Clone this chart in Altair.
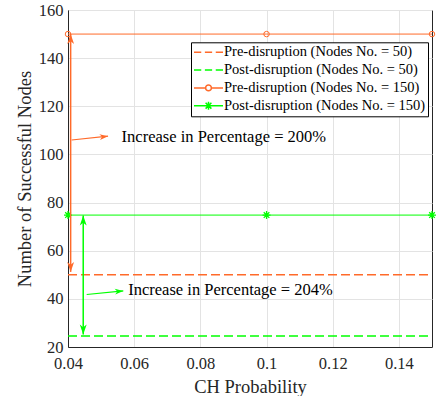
import altair as alt
import pandas as pd

# ---------------- data ----------------
ch_probability = [0.04, 0.1, 0.15]
series = [
    "Pre-disruption (Nodes No. = 50)",
    "Post-disruption (Nodes No. = 50)",
    "Pre-disruption (Nodes No. = 150)",
    "Post-disruption (Nodes No. = 150)",
]
pre_50 = [50, 50, 50]
post_50 = [24.6, 24.6, 24.6]
pre_150 = [150, 150, 150]
post_150 = [74.8, 74.8, 74.8]

x_ticks = [0.04, 0.06, 0.08, 0.10, 0.12, 0.14]
y_ticks = [20, 40, 60, 80, 100, 120, 140, 160]

# annotations (data units)
ann_texts = ["Increase in Percentage = 200%", "Increase in Percentage = 204%"]
ann_text_x = [0.0562, 0.0582]
ann_text_y = [107.3, 43.6]
vert_x = [0.0408, 0.0446]
vert_top = [150.0, 74.6]
vert_bottom = [51.2, 25.2]
ptr_x0 = [0.0411, 0.04565]
ptr_y0 = [106.0, 41.8]
ptr_x1 = [0.0521, 0.05671]
ptr_y1 = [107.6, 43.3]

# ---------------- styles ----------------
ORANGE = "#FF6A2A"
GREEN = "#00FF00"
FONT = "Liberation Serif"
colors = [ORANGE, GREEN, ORANGE, GREEN]
dashes = [[9, 4], [9, 4], [1, 0], [1, 0]]
widths = [1.6, 1.6, 1.0, 1.0]

LEGEND_PATHS = [
    "M-1,0H-0.5M-0.25,0H0.25M0.5,0H1",
    "M-1,0H-0.5M-0.25,0H0.25M0.5,0H1",
    "M-1,0H-0.2M0.2,0H1M0.2,0A0.2,0.2 0 1,1 -0.2,0A0.2,0.2 0 1,1 0.2,0",
    "M-1,0H1M0,-0.28V0.28M-0.2,-0.2L0.2,0.2M-0.2,0.2L0.2,-0.2",
]
STAR = "M-1,0H1M0,-1V1M-0.7,-0.7L0.7,0.7M-0.7,0.7L0.7,-0.7"
ARROW = "M0,0L0.55,1.6L0,1.15L-0.55,1.6Z"

rows = []
for name, vals in zip(series, [pre_50, post_50, pre_150, post_150]):
    for xv, yv in zip(ch_probability, vals):
        rows.append({"p": xv, "n": yv, "series": name})
lines_df = pd.DataFrame(rows)

x_enc = alt.X(
    "p:Q",
    scale=alt.Scale(domain=[0.04, 0.15], nice=False, zero=False),
    axis=alt.Axis(values=x_ticks, format="~g", title="CH Probability", labelFlush=False),
)
y_enc = alt.Y(
    "n:Q",
    scale=alt.Scale(domain=[20, 160], nice=False, zero=False),
    axis=alt.Axis(values=y_ticks, title="Number of Successful Nodes", labelFlush=False),
)
color_scale = alt.Scale(domain=series, range=colors)

line_layers = []
for name, col, dash, w in zip(series, colors, dashes, widths):
    line_layers.append(
        alt.Chart(lines_df)
        .transform_filter(alt.datum.series == name)
        .mark_line(color=col, strokeDash=dash, strokeWidth=w)
        .encode(x=x_enc, y=y_enc)
    )

circles = (
    alt.Chart(lines_df)
    .transform_filter(alt.datum.series == series[2])
    .mark_point(shape="circle", filled=False, size=30, strokeWidth=1, color=ORANGE, opacity=1)
    .encode(x=x_enc, y=y_enc)
)
stars = (
    alt.Chart(lines_df)
    .transform_filter(alt.datum.series == series[3])
    .mark_point(shape=STAR, filled=False, size=64, strokeWidth=1.3, color=GREEN, opacity=1)
    .encode(x=x_enc, y=y_enc)
)

legend_def = alt.Legend(
    title=None,
    orient="none",
    legendX=123,
    legendY=32.3,
    padding=2,
    fillColor="white",
    strokeColor="black",
    symbolSize=841,
    symbolStrokeWidth=1.5,
    labelFont=FONT,
    labelFontSize=14.5,
    labelColor="black",
    labelLimit=400,
    clipHeight=16,
    rowPadding=1.8,
    symbolOffset=0,
    labelOffset=0,
)
legend_df = pd.DataFrame({"series": series, "p": [0.04] * 4, "n": [20] * 4})
legend_layer = (
    alt.Chart(legend_df)
    .transform_filter("false")
    .mark_point(filled=False, opacity=1, strokeWidth=1.5)
    .encode(
        x=x_enc,
        y=y_enc,
        color=alt.Color("series:N", scale=color_scale, legend=legend_def),
        shape=alt.Shape(
            "series:N", scale=alt.Scale(domain=series, range=LEGEND_PATHS), legend=legend_def
        ),
    )
)

# annotations
vert_df = pd.DataFrame({"p": vert_x, "n": vert_top, "n2": vert_bottom})
ptr_df = pd.DataFrame({"p": ptr_x0, "n": ptr_y0, "p2": ptr_x1, "n2": ptr_y1})
txt_df = pd.DataFrame({"p": ann_text_x, "n": ann_text_y, "t": ann_texts})


def rule_layers(i, col):
    v = (
        alt.Chart(vert_df.iloc[[i]])
        .mark_rule(color=col, strokeWidth=1.5)
        .encode(x=x_enc, y=y_enc, y2="n2:Q")
    )
    p = (
        alt.Chart(ptr_df.iloc[[i]])
        .mark_rule(color=col, strokeWidth=1.2)
        .encode(x=x_enc, y=y_enc, x2="p2:Q", y2="n2:Q")
    )
    return [v, p]


def head(px, ny, col, angle, size):
    df = pd.DataFrame({"p": [px], "n": [ny]})
    return (
        alt.Chart(df)
        .mark_point(shape=ARROW, filled=True, size=size, angle=angle, color=col, opacity=1, strokeWidth=0)
        .encode(x=x_enc, y=y_enc)
    )


heads = [
    head(vert_x[0], vert_top[0], ORANGE, 0, 156),
    head(vert_x[0], vert_bottom[0], ORANGE, 180, 156),
    head(ptr_x1[0], ptr_y1[0], ORANGE, 83.7, 110),
    head(vert_x[1], vert_top[1], GREEN, 0, 156),
    head(vert_x[1], vert_bottom[1], GREEN, 180, 156),
    head(ptr_x1[1], ptr_y1[1], GREEN, 84.4, 110),
]

texts = alt.Chart(txt_df).mark_text(
    align="left", baseline="middle", font=FONT, fontSize=16.5, color="black"
).encode(x=x_enc, y=y_enc, text="t:N")

chart = (
    alt.layer(
        legend_layer,
        *line_layers,
        circles,
        stars,
        *rule_layers(0, ORANGE),
        *rule_layers(1, GREEN),
        *heads,
        texts,
    )
    .properties(
        width=364,
        height=337,
        padding={"left": 68, "top": 10, "right": 16, "bottom": 49},
        autosize=alt.AutoSizeParams(type="none"),
    )
    .configure_view(stroke="#262626", strokeWidth=1)
    .configure_axis(
        gridColor="#E3E3E3",
        gridWidth=1,
        domainColor="#262626",
        ticks=False,
        labelFont=FONT,
        labelFontSize=16.5,
        labelColor="#262626",
        titleFont=FONT,
        titleFontSize=18.5,
        titleColor="#262626",
        titleFontWeight="normal",
    )
    .configure_axisX(labelPadding=8, titlePadding=6)
    .configure_axisY(labelPadding=5, titlePadding=4)
)

chart.save("out.html", embed_options={"renderer": "svg", "actions": False})
